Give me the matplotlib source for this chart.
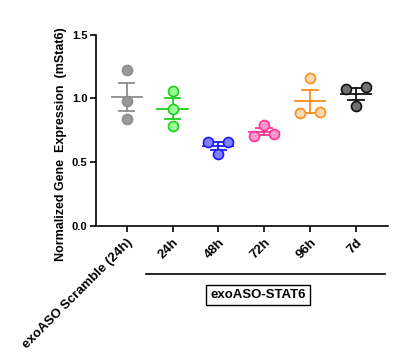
import numpy as np
import matplotlib
matplotlib.use('Agg')
import matplotlib.pyplot as plt

plt.rcParams['font.family'] = ['Liberation Sans', 'DejaVu Sans']
plt.rcParams['font.weight'] = 'bold'

# data
groups = ['exoASO Scramble (24h)', '24h', '48h', '72h', '96h', '7d']
values = [
    [1.22, 0.98, 0.84],
    [1.06, 0.92, 0.78],
    [0.66, 0.66, 0.565],
    [0.79, 0.705, 0.72],
    [1.16, 0.885, 0.89],
    [1.075, 1.09, 0.94],
]
jitter = [
    [0, 0, 0],
    [0, 0, 0],
    [-0.22, 0.22, 0.0],
    [0.0, -0.22, 0.22],
    [0.0, -0.22, 0.22],
    [-0.22, 0.22, 0.0],
]
edge_colors = ['#8c8c8c', '#1fcc1f', '#1a1aff', '#ff3399', '#ff8c1a', '#111111']
face_colors = ['#999999', '#99ff99', '#8080ff', '#ff99cc', '#ffd9b3', '#707070']
line_colors = ['#8c8c8c', '#22cc22', '#1a1aff', '#ff3399', '#ff8c1a', '#111111']

fig = plt.figure(figsize=(3.98, 3.58), dpi=100)
ax = fig.add_axes([0.241, 0.369, 0.734, 0.534])

for i, vals in enumerate(values):
    vals = np.array(vals)
    m = vals.mean()
    sem = vals.std(ddof=1) / np.sqrt(len(vals))
    c = line_colors[i]
    ax.plot([i - 0.33, i + 0.33], [m, m], color=c, lw=1.3, zorder=2)
    ax.plot([i, i], [m - sem, m + sem], color=c, lw=1.3, zorder=2)
    ax.plot([i - 0.17, i + 0.17], [m + sem, m + sem], color=c, lw=1.3, zorder=2)
    ax.plot([i - 0.17, i + 0.17], [m - sem, m - sem], color=c, lw=1.3, zorder=2)
    ax.plot(i + np.array(jitter[i]), vals, 'o', ms=7.2, mfc=face_colors[i],
            mec=edge_colors[i], mew=1.2, zorder=3, linestyle='none')

ax.set_xlim(-0.67, 5.7)
ax.set_ylim(0, 1.5)
ax.set_yticks([0, 0.5, 1.0, 1.5])
ax.set_yticklabels(['0.0', '0.5', '1.0', '1.5'], fontsize=8, fontweight='bold')
ax.set_xticks(range(len(groups)))
ax.set_xticklabels(groups, rotation=45, ha='right', rotation_mode='anchor',
                   fontsize=9.5, fontweight='bold')
ax.spines['top'].set_visible(False)
ax.spines['right'].set_visible(False)
ax.spines['left'].set_linewidth(1.2)
ax.spines['bottom'].set_linewidth(1.2)
ax.tick_params(axis='both', width=1.2, length=4)
ax.tick_params(axis='y', pad=2)
ax.set_ylabel('Normalized Gene  Expression  (mStat6)', fontsize=9, fontweight='bold')
ax.yaxis.set_label_coords(-0.10, 0.43)

# group bracket below the tick labels
ax.plot([0.17, 0.99], [-0.2525, -0.2525], color='black', lw=1.2,
        transform=ax.transAxes, clip_on=False)
ax.text(0.555, -0.361, 'exoASO-STAT6', transform=ax.transAxes, ha='center',
        va='center', fontsize=9.5, fontweight='bold',
        bbox=dict(boxstyle='square,pad=0.3', fc='white', ec='black', lw=1.0))

fig.savefig('out.png', dpi=100)
